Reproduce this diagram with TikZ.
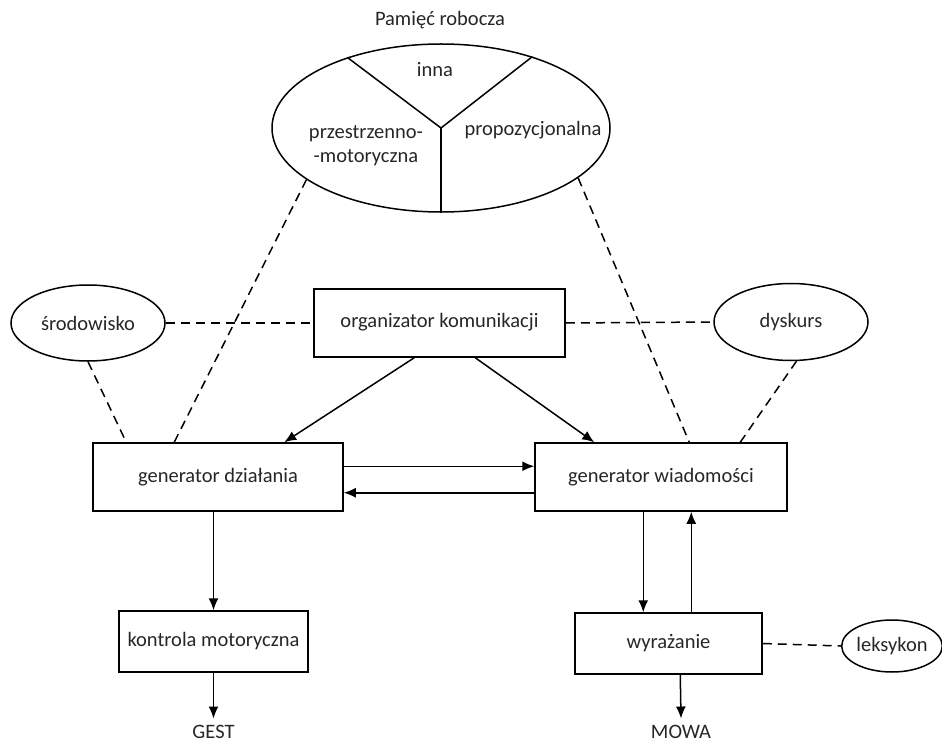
\documentclass[tikz,border=0pt]{standalone}
\usepackage{fontspec}
\setmainfont{Carlito}
\usetikzlibrary{arrows.meta,shapes.geometric}
\begin{document}
\begin{tikzpicture}[x=1pt,y=-1pt,
  line width=1.5pt,
  every node/.style={font=\fontsize{20.5}{24}\selectfont, text=black!85},
  box/.style={draw, rectangle, inner sep=0pt},
  oval/.style={draw, ellipse, inner sep=0pt},
  plain/.style={inner sep=0pt},
  link/.style={dash pattern=on 9pt off 6pt},
  flow/.style={-{Latex[length=12pt,width=10pt]}}]
\useasboundingbox (0,0) rectangle (942,743);

% working memory with its three parts
\node[plain] (title) at (440,20) {Pamięć robocza};
\node[oval, minimum width=338pt, minimum height=168pt] (mem) at (441,128) {};
\draw (mem.143.9) -- (mem.center) -- (mem.38.2);
\draw (mem.center) -- (mem.south);
\node[plain] (other) at (435,70) {inna};
\node[plain, align=center] (spatial) at (366,146) {przestrzenno-\\-motoryczna};
\node[plain] (prop) at (533,130) {propozycjonalna};

% side ellipses and the organizer
\node[oval, minimum width=154pt, minimum height=76pt] (env) at (88,323) {środowisko};
\node[oval, minimum width=154pt, minimum height=77pt] (disc) at (791,322) {dyskurs};
\node[box, minimum width=251pt, minimum height=68pt] (org) at (439.5,323) {\raisebox{6pt}{organizator komunikacji}};

% generators
\node[box, minimum width=250pt, minimum height=68pt] (act) at (218,477) {generator działania};
\node[box, minimum width=252pt, minimum height=68pt] (msg) at (661,477) {generator wiadomości};

% output stages
\node[box, minimum width=189pt, minimum height=61pt] (motor) at (213.5,641.5) {kontrola motoryczna};
\node[box, minimum width=187pt, minimum height=61pt] (expr) at (668.5,643.5) {wyrażanie};
\node[oval, minimum width=96pt, minimum height=52pt] (lex) at (892,646) {leksykon};
\node[plain] (gest) at (213.5,732) {GEST};
\node[plain] (speech) at (681,732) {MOWA};

% dashed associations
\draw[link] (mem.-159.4) -- ([xshift=82pt]act.north west);
\draw[link] (mem.-20.9) -- ([xshift=155pt]msg.north west);
\draw[link] (env.east) -- (org.west);
\draw[link] (org.east) -- (disc.west);
\draw[link] (env.south) -- ([xshift=34pt]act.north west);
\draw[link] (disc.-82) -- ([xshift=206pt]msg.north west);
\draw[link] (expr.east) -- (lex.west);

% control flow
\draw[flow] ([xshift=101pt]org.south west) -- ([xshift=192pt]act.north west);
\draw[flow] ([xshift=162pt]org.south west) -- ([xshift=60pt]msg.north west);
\draw[flow] ([yshift=-24pt]act.north east) -- ([yshift=-24pt]msg.north west);
\draw[flow] ([yshift=19pt]msg.south west) -- ([yshift=19pt]act.south east);
\draw[flow] (act.south -| motor.north) -- (motor.north);
\draw[flow] (motor.south) -- ([yshift=6pt]gest.north);
\draw[flow] ([xshift=109pt]msg.south west) -- ([xshift=69pt]expr.north west);
\draw[flow] ([xshift=117pt]expr.north west) -- ([xshift=157pt]msg.south west);
\draw[flow] ([xshift=106pt]expr.south west) -- ([yshift=6pt]speech.north);
\end{tikzpicture}
\end{document}
